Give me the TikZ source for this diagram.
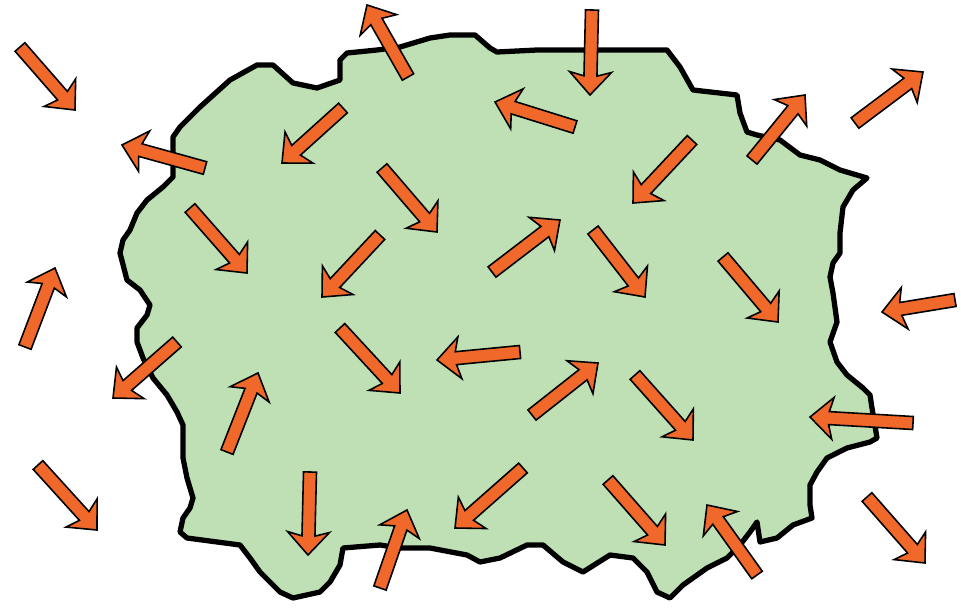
\documentclass[tikz,border=0pt]{standalone}
\usepackage{xcolor}
\usepackage{tikz}
\usetikzlibrary{calc}
\definecolor{cellgreen}{RGB}{191, 224, 181}
\definecolor{arroworange}{RGB}{240, 105, 42}

\begin{document}
\begin{tikzpicture}[
    x=0.02cm, y=-0.02cm,
    cell/.style={fill=cellgreen, draw=black, line width=3pt, line join=round},
    flux/.style={fill=arroworange, draw=black, line width=0.9pt, line join=miter}
]
    \useasboundingbox (0,0) rectangle (961,609);

    % the cell body
    \draw[cell] (173,137) -- (180,127) -- (200,107) -- (230,80) -- (257,65) -- (273,65)
        -- (293,83) -- (317,88) -- (340,80) -- (340,60) -- (347,53) -- (377,50)
        -- (400,47) -- (430,38) -- (450,35) -- (475,35) -- (490,48) -- (497,52)
        -- (537,50) -- (560,50) -- (667,50) -- (680,67) -- (693,90) -- (737,95)
        -- (740,113) -- (747,132) -- (757,135) -- (780,140) -- (800,155) -- (820,160)
        -- (840,170) -- (867,178) -- (853,190) -- (843,207) -- (840,233) -- (840,253)
        -- (833,263) -- (830,277) -- (833,293) -- (837,322) -- (830,342) -- (837,362)
        -- (847,375) -- (863,388) -- (870,395) -- (872,408) -- (877,438) -- (870,442)
        -- (847,448) -- (827,458) -- (817,472) -- (810,485) -- (810,505) -- (812,518)
        -- (793,525) -- (777,538) -- (760,542) -- (757,522) -- (750,532) -- (740,545)
        -- (727,558) -- (707,568) -- (683,585) -- (670,598) -- (657,592) -- (647,572)
        -- (633,558) -- (610,555) -- (583,572) -- (563,562) -- (543,545) -- (527,545)
        -- (500,558) -- (480,562) -- (467,555) -- (430,548) -- (400,548) -- (380,545)
        -- (343,548) -- (340,565) -- (330,582) -- (320,592) -- (293,598) -- (280,592)
        -- (260,572) -- (250,558) -- (240,545) -- (187,538) -- (180,532) -- (183,518)
        -- (190,508) -- (193,498) -- (187,478) -- (183,458) -- (183,425) -- (177,412)
        -- (167,395) -- (153,378) -- (143,358) -- (137,342) -- (137,328) -- (147,315)
        -- (150,305) -- (140,290) -- (127,280) -- (120,253) -- (123,240) -- (130,230)
        -- (137,213) -- (147,200) -- (163,187) -- (173,177) -- cycle;

    % arrows: tail x/y, head x/y
    \foreach \tx/\ty/\hx/\hy in {
        20/47/75/110, 408/77/367/5, 592/10/590/95, 575/127/495/102,
        343/108/282/163, 205/168/122/145, 692/140/633/203, 752/160/805/95,
        855/123/923/72, 382/168/437/232, 190/208/247/273, 380/235/322/297,
        492/272/560/220, 593/230/645/297, 723/257/778/322, 955/300/882/312,
        25/347/55/268, 177/342/113/398, 340/328/400/393, 520/352/437/360,
        227/452/258/373, 532/415/598/363, 635/375/693/440, 913/423/810/417,
        38/465/97/530, 310/472/308/555, 523/468/455/528, 608/480/665/545,
        380/588/407/510, 757/575/707/505, 867/497/925/563}
    {
        \coordinate (t) at (\tx,\ty);
        \coordinate (h) at (\hx,\hy);
        \coordinate (b) at ($(h)!0.38cm!(t)$);
        \coordinate (c) at ($(h)!0.46cm!(t)$);
        \draw[flux] ($(t)!0.13cm!90:(h)$) -- ($(b)!0.13cm!90:(h)$)
            -- ($(c)!0.42cm!90:(h)$) -- (h) -- ($(c)!0.42cm!-90:(h)$)
            -- ($(b)!0.13cm!-90:(h)$) -- ($(t)!0.13cm!-90:(h)$) -- cycle;
    }
\end{tikzpicture}
\end{document}
